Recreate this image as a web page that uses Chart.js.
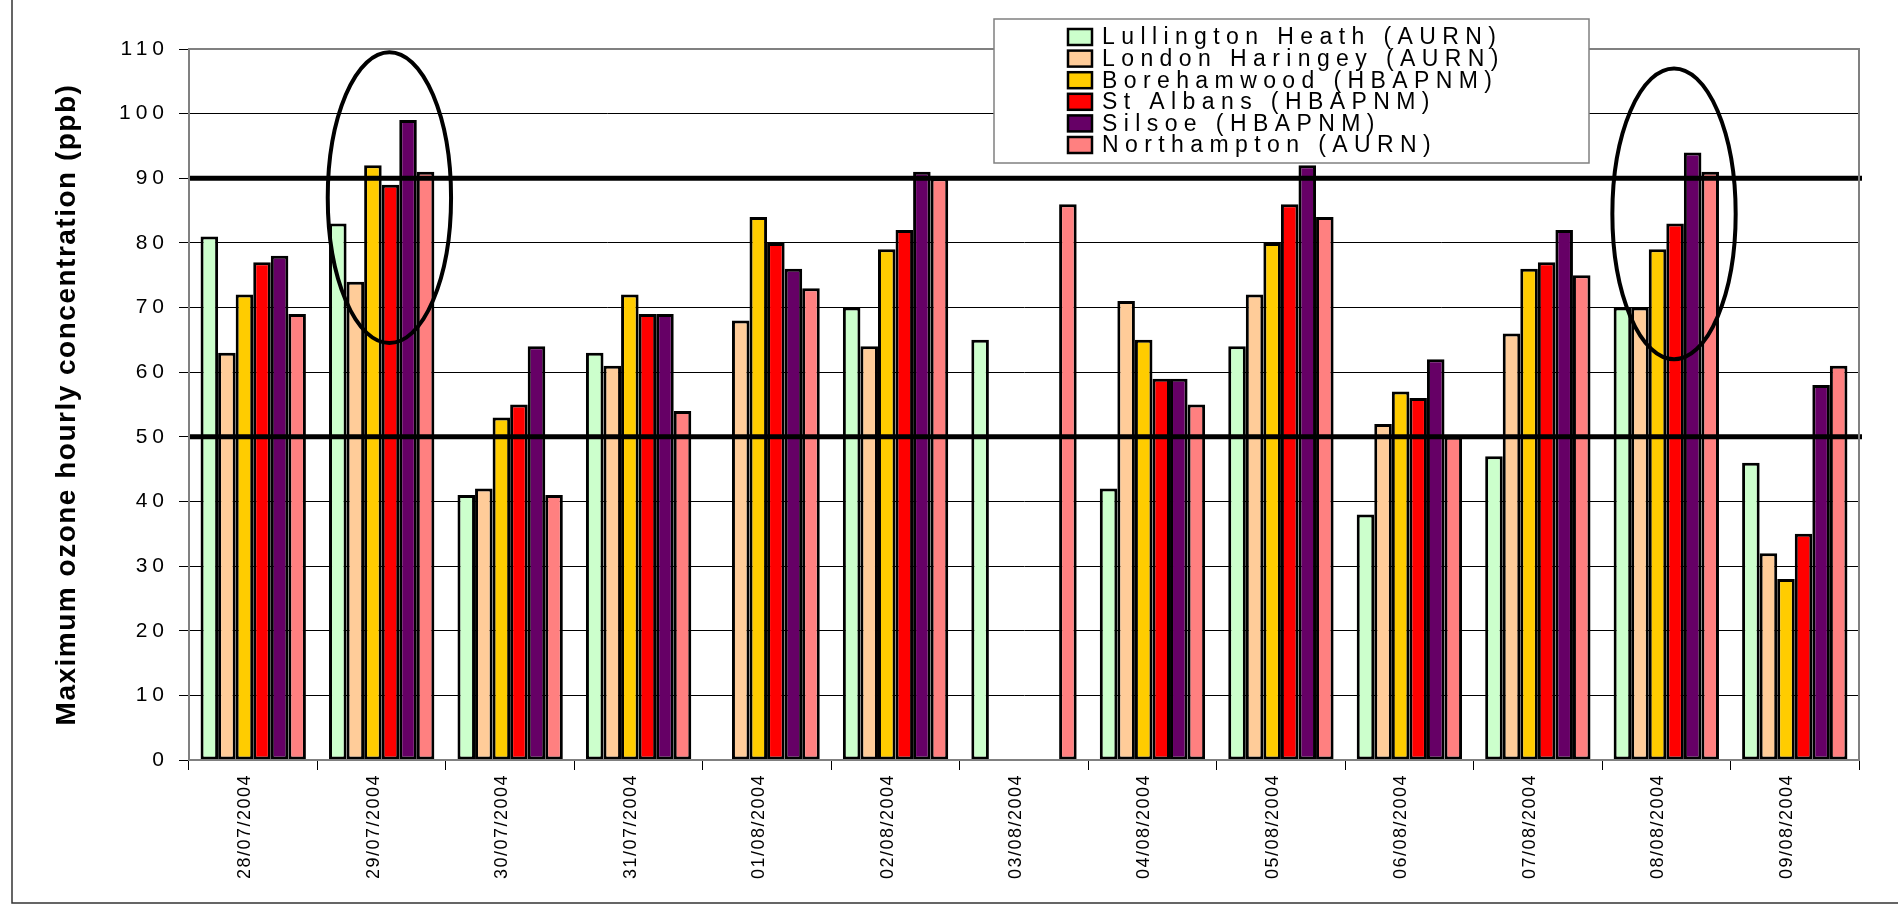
<!DOCTYPE html>
<html>
<head>
<meta charset="utf-8">
<script src="https://cdn.jsdelivr.net/npm/chart.js@4.4.1/dist/chart.umd.min.js"></script>
<style>
    html, body { margin: 0; padding: 0; background: #fff; }
    #wrap { width: 1898px; height: 906px; position: relative; }
</style>
</head>
<body>
<div id="wrap"><canvas id="ozoneChart"></canvas></div>
<script>
const days = ["28/07/2004", "29/07/2004", "30/07/2004", "31/07/2004", "01/08/2004", "02/08/2004", "03/08/2004",
    "04/08/2004", "05/08/2004", "06/08/2004", "07/08/2004", "08/08/2004", "09/08/2004"];
const lullington = [81, 83, 41, 63, null, 70, 65, 42, 64, 38, 47, 70, 46];
const haringey = [63, 74, 42, 61, 68, 64, null, 71, 72, 52, 66, 70, 32];
const borehamwood = [72, 92, 53, 72, 84, 79, null, 65, 80, 57, 76, 79, 28];
const stAlbans = [77, 89, 55, 69, 80, 82, null, 59, 86, 56, 77, 83, 35];
const silsoe = [78, 99, 64, 69, 76, 91, null, 59, 92, 62, 82, 94, 58];
const northampton = [69, 91, 41, 54, 73, 90, 86, 55, 84, 50, 75, 91, 61];
const thresholds = [50, 90];
const circledDays = ["29/07/2004", "08/08/2004"];
const circleTop = [109.5, 107];
const circleBottom = [64.5, 62];

const FONT = '"Liberation Sans", Arial, sans-serif';

// axis labels, legend, frame and marks drawn on top
const overlayPlugin = {
    id: "overlay",
    afterDatasetsDraw(chart) {
        const { ctx, chartArea, scales } = chart;
        const y = scales.y, x = scales.x;
        ctx.save();
        // thick threshold lines
        ctx.strokeStyle = "#000";
        ctx.lineWidth = 5;
        thresholds.forEach(v => {
            const py = y.getPixelForValue(v);
            ctx.beginPath();
            ctx.moveTo(chartArea.left, py);
            ctx.lineTo(chartArea.right + 3, py);
            ctx.stroke();
        });
        // plot frame
        ctx.strokeStyle = "#808080";
        ctx.lineWidth = 2;
        ctx.strokeRect(chartArea.left, chartArea.top, chartArea.right - chartArea.left, chartArea.bottom - chartArea.top);
        // ellipses
        const catW = (chartArea.right - chartArea.left) / days.length;
        ctx.strokeStyle = "#000";
        ctx.lineWidth = 4;
        circledDays.forEach((d, i) => {
            const cx = x.getPixelForValue(days.indexOf(d)) + catW * 0.06;
            const top = y.getPixelForValue(circleTop[i]);
            const bot = y.getPixelForValue(circleBottom[i]);
            ctx.beginPath();
            ctx.ellipse(cx, (top + bot) / 2, catW * 0.48, (bot - top) / 2, 0, 0, Math.PI * 2);
            ctx.stroke();
        });
        ctx.restore();
    },
    afterDraw(chart) {
        const { ctx, chartArea, scales } = chart;
        const y = scales.y, x = scales.x;
        ctx.save();
        ctx.fillStyle = "#000";

        // y tick labels
        ctx.font = "21px " + FONT;
        ctx.letterSpacing = "5px";
        ctx.textAlign = "right";
        ctx.textBaseline = "middle";
        y.ticks.forEach((t, i) => {
            ctx.fillText(String(t.value), chartArea.left - 20, y.getPixelForTick(i));
        });

        // x tick labels, rotated
        ctx.font = "18px " + FONT;
        ctx.letterSpacing = "1.5px";
        days.forEach((d, i) => {
            ctx.save();
            ctx.translate(x.getPixelForValue(i) - 8, chartArea.bottom + 14);
            ctx.rotate(-Math.PI / 2);
            ctx.textAlign = "right";
            ctx.textBaseline = "middle";
            ctx.fillText(d, 0, 0);
            ctx.restore();
        });

        // y title
        ctx.letterSpacing = "1.5px";
        ctx.font = "bold 28px " + FONT;
        ctx.save();
        ctx.translate(67, (chartArea.top + chartArea.bottom) / 2);
        ctx.rotate(-Math.PI / 2);
        ctx.textAlign = "center";
        ctx.textBaseline = "middle";
        ctx.fillText("Maximum ozone hourly concentration (ppb)", 0, 0);
        ctx.restore();

        // legend
        ctx.fillStyle = "#fff";
        ctx.fillRect(994, 19, 595, 144);
        ctx.strokeStyle = "#808080";
        ctx.lineWidth = 1.5;
        ctx.strokeRect(994, 19, 595, 144);
        ctx.font = "23px " + FONT;
        ctx.letterSpacing = "6.4px";
        ctx.textAlign = "left";
        ctx.textBaseline = "middle";
        chart.data.datasets.forEach((ds, i) => {
            const rowY = 37 + i * 21.6;
            ctx.fillStyle = ds.backgroundColor;
            ctx.fillRect(1068, rowY - 8, 24, 16);
            ctx.strokeStyle = "#000";
            ctx.lineWidth = 2.5;
            ctx.strokeRect(1068, rowY - 8, 24, 16);
            ctx.fillStyle = "#000";
            ctx.fillText(ds.label, 1102, rowY + 1);
        });

        // outer chart border
        ctx.letterSpacing = "0px";
        ctx.strokeStyle = "#333";
        ctx.lineWidth = 1.5;
        ctx.beginPath();
        ctx.moveTo(12, 0);
        ctx.lineTo(12, 903);
        ctx.lineTo(1898, 903);
        ctx.stroke();
        ctx.restore();
    }
};

function makeSet(label, data, color) {
    return {
        label: label,
        data: data,
        backgroundColor: color,
        borderColor: "#000",
        borderWidth: 3,
        borderSkipped: false,
        categoryPercentage: 0.82,
        barPercentage: 1.0
    };
}

document.addEventListener("DOMContentLoaded", function () {
    const ctx = document.getElementById("ozoneChart").getContext("2d");
    new Chart(ctx, {
        type: "bar",
        data: {
            labels: days,
            datasets: [
                makeSet("Lullington Heath (AURN)", lullington, "#CCFFCC"),
                makeSet("London Haringey (AURN)", haringey, "#FFCC99"),
                makeSet("Borehamwood (HBAPNM)", borehamwood, "#FFCC00"),
                makeSet("St Albans (HBAPNM)", stAlbans, "#FF0000"),
                makeSet("Silsoe (HBAPNM)", silsoe, "#660066"),
                makeSet("Northampton (AURN)", northampton, "#FF8080")
            ]
        },
        options: {
            responsive: true,
            maintainAspectRatio: false,
            animation: false,
            layout: { padding: { left: 179, right: 39, top: 49, bottom: 136 } },
            plugins: {
                legend: { display: false },
                tooltip: { enabled: false }
            },
            scales: {
                x: {
                    ticks: { display: false },
                    grid: { drawOnChartArea: false, drawTicks: true, tickLength: 10, color: "#000", offset: true },
                    border: { color: "#808080", width: 2 }
                },
                y: {
                    min: 0,
                    max: 110,
                    ticks: { display: false, stepSize: 10 },
                    grid: { color: "#000", lineWidth: 1, tickLength: 10 },
                    border: { color: "#808080", width: 2 }
                }
            }
        },
        plugins: [overlayPlugin]
    });
});
</script>
</body>
</html>
